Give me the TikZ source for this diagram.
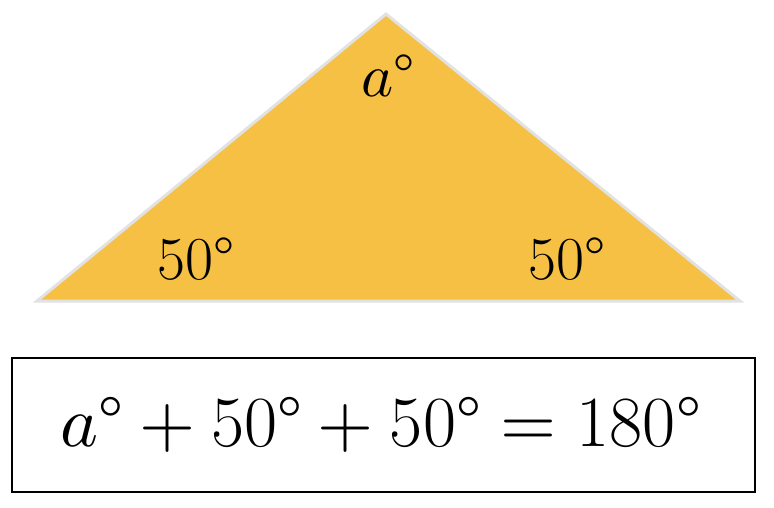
\documentclass[tikz,border=0pt]{standalone}
\usepackage{fontspec}
\usepackage{unicode-math}
\usepackage{tikz}
\usetikzlibrary{calc}
\definecolor{angfill}{RGB}{245,192,67}
\definecolor{angedge}{RGB}{226,226,226}

\begin{document}
\begin{tikzpicture}[x=1pt, y=-1pt,
    angle/.style={font=\fontsize{61}{62}\selectfont, inner sep=0pt},
    sumbox/.style={draw=black, line width=1.6pt, minimum width=743pt, minimum height=134pt,
      font=\fontsize{72}{74}\selectfont}]
  \useasboundingbox (0,0) rectangle (774,508);
  % triangle
  \coordinate (left) at (37,301);
  \coordinate (top) at (386,14);
  \coordinate (right) at (740,301);
  \draw[fill=angfill, draw=angedge, line width=3pt] (left) -- (top) -- (right) -- cycle;
  \node[angle] (atop) at (388,76) {$a$°};
  \node[angle] (aleft) at (196,259) {50°};
  \node[angle] (aright) at (567,259) {50°};
  % sum of angles
  \node[sumbox] (sum) at (383.5,425) {\hspace*{-6pt}$a$°${}+{}$50°${}+{}$50°${}={}$180°};
\end{tikzpicture}
\end{document}
